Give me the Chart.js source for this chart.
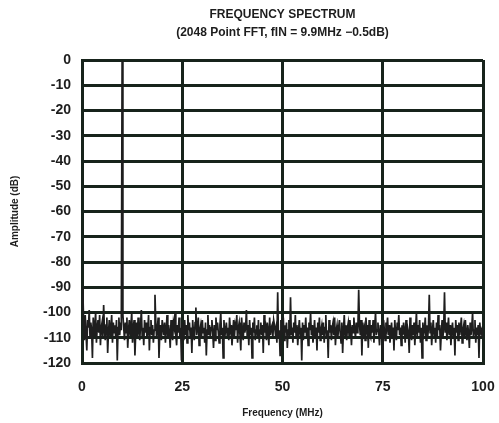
<!DOCTYPE html>
<html>
<head>
<meta charset="utf-8">
<title>Frequency Spectrum</title>
<script src="https://cdn.jsdelivr.net/npm/chart.js@4.4.1/dist/chart.umd.min.js"></script>
<style>
  html, body { margin: 0; padding: 0; background: #fff; overflow: hidden; }
  #wrap { position: relative; width: 499px; height: 423px; }
</style>
</head>
<body>
<div id="wrap"><canvas id="fftChart"></canvas></div>
<script>
// FFT bins: 0.2 MHz spacing from 0 to 100 MHz
const binWidthMHz = 0.2;

// Amplitude of each bin in dB (bin 50 is the 10 MHz fundamental)
const amplitudeDb = [
  -97, -90, -104, -111, -101, -108, -115, -103, -106, -99,
  -110, -104, -107, -118, -102, -109, -105, -100, -112, -106,
  -103, -108, -101, -113, -106, -104, -110, -97, -107, -111,
  -105, -102, -116, -108, -103, -109, -106, -101, -112, -104,
  -108, -105, -110, -103, -119, -106, -102, -109, -104, -107,
  -0.5, -101, -106, -111, -104, -108, -102, -114, -107, -103,
  -109, -105, -100, -112, -106, -103, -117, -108, -104, -110,
  -102, -107, -111, -105, -99, -109, -106, -113, -103, -108,
  -104, -110, -107, -101, -115, -106, -103, -109, -105, -112,
  -107, -93, -104, -110, -106, -102, -118, -108, -105, -111,
  -103, -106, -109, -104, -112, -107, -101, -110, -105, -108,
  -114, -103, -107, -111, -104, -106, -100, -109, -113, -105,
  -108, -102, -110, -106, -119, -104, -107, -111, -103, -109,
  -105, -112, -101, -107, -104, -110, -106, -116, -103, -108,
  -111, -104, -98, -109, -106, -102, -113, -107, -105, -110,
  -103, -108, -106, -112, -104, -117, -107, -101, -109, -105,
  -110, -106, -103, -108, -114, -105, -111, -102, -107, -104,
  -108, -112, -105, -100, -109, -106, -118, -103, -110, -107,
  -104, -109, -106, -111, -102, -107, -105, -113, -108, -103,
  -110, -105, -107, -101, -112, -106, -104, -109, -115, -102,
  -107, -111, -104, -108, -106, -99, -110, -105, -113, -103,
  -109, -106, -118, -104, -108, -102, -111, -107, -105, -110,
  -103, -112, -107, -104, -109, -105, -116, -101, -108, -106,
  -111, -104, -107, -113, -102, -109, -106, -105, -110, -103,
  -105, -108, -106, -112, -92, -110, -107, -117, -103, -109,
  -106, -102, -111, -105, -108, -104, -114, -107, -103, -110,
  -94, -109, -106, -112, -104, -108, -101, -110, -105, -113,
  -107, -103, -109, -106, -119, -104, -111, -105, -108, -102,
  -110, -106, -113, -104, -107, -100, -109, -105, -112, -108,
  -103, -110, -106, -115, -104, -108, -102, -111, -107, -105,
  -109, -104, -112, -106, -101, -110, -107, -118, -103, -108,
  -105, -111, -106, -104, -109, -102, -113, -107, -105, -110,
  -106, -103, -108, -112, -104, -116, -107, -101, -109, -105,
  -111, -106, -104, -109, -103, -107, -113, -105, -108, -102,
  -107, -110, -104, -108, -106, -91, -105, -109, -103, -117,
  -104, -108, -106, -111, -102, -107, -105, -114, -103, -109,
  -110, -105, -108, -103, -112, -106, -100, -109, -107, -104,
  -108, -113, -105, -110, -106, -119, -103, -107, -111, -104,
  -106, -102, -109, -105, -112, -108, -104, -110, -106, -115,
  -103, -108, -111, -104, -107, -101, -109, -106, -113, -105,
  -109, -104, -107, -112, -103, -110, -106, -108, -116, -102,
  -107, -111, -105, -109, -104, -113, -106, -100, -110, -105,
  -108, -103, -112, -106, -118, -104, -109, -107, -102, -111,
  -105, -110, -106, -93, -108, -104, -113, -107, -103, -109,
  -106, -112, -104, -110, -101, -107, -105, -115, -108, -103,
  -110, -106, -92, -108, -104, -111, -107, -102, -109, -105,
  -113, -107, -104, -110, -106, -117, -103, -108, -105, -111,
  -104, -109, -106, -102, -112, -107, -105, -110, -103, -108,
  -111, -105, -108, -114, -104, -109, -106, -100, -110, -107,
  -103, -112, -106, -109, -105, -118, -104, -108, -107, -110,
  -106
];

const freqMHz = amplitudeDb.map((_, bin) => bin * binWidthMHz);

const titleLines = ['FREQUENCY SPECTRUM', '(2048 Point FFT, fIN = 9.9MHz \u22120.5dB)'];
const xTicks = [0, 25, 50, 75, 100];
const yTicks = [0, -10, -20, -30, -40, -50, -60, -70, -80, -90, -100, -110, -120];

const gridColor = '#17231b';
const inkColor = '#1d1d1d';
const labelFont = { family: "'Liberation Sans', Arial, sans-serif", size: 14, weight: 'bold' };

const points = freqMHz.map((f, i) => ({ x: f, y: amplitudeDb[i] }));

const ctx = document.getElementById('fftChart').getContext('2d');
new Chart(ctx, {
  type: 'line',
  data: {
    datasets: [{
      data: points,
      borderColor: '#1e1e1e',
      borderWidth: 1.7,
      pointRadius: 0,
      tension: 0
    }]
  },
  options: {
    responsive: true,
    maintainAspectRatio: false,
    animation: false,
    layout: { padding: { left: 0, right: 16, top: 0, bottom: 0 } },
    plugins: {
      legend: { display: false },
      tooltip: { enabled: false },
      title: {
        display: true,
        fullSize: false,
        text: titleLines,
        color: inkColor,
        font: { family: "'Liberation Sans', Arial, sans-serif", size: 12, weight: 'bold', lineHeight: 1.5 },
        padding: { top: 6, bottom: 18 }
      }
    },
    scales: {
      x: {
        type: 'linear',
        min: 0,
        max: 100,
        afterFit: (scale) => { scale.height = 60; },
        afterBuildTicks: (scale) => { scale.ticks = xTicks.map(v => ({ value: v })); },
        // invisible tick marks push the labels down without widening the side padding
        ticks: { color: inkColor, font: labelFont, padding: 4, maxRotation: 0 },
        grid: { color: gridColor, lineWidth: 3, drawTicks: true, tickLength: 12, tickColor: 'rgba(0,0,0,0)' },
        border: { display: true, color: gridColor, width: 3 },
        title: {
          display: true,
          text: 'Frequency (MHz)',
          color: inkColor,
          font: { family: "'Liberation Sans', Arial, sans-serif", size: 10, weight: 'bold' },
          padding: { top: 0, bottom: 4 }
        }
      },
      y: {
        min: -120,
        max: 0,
        afterFit: (scale) => { scale.width = 82; },
        afterBuildTicks: (scale) => { scale.ticks = yTicks.map(v => ({ value: v })); },
        ticks: { color: inkColor, font: labelFont, padding: 11 },
        grid: { color: gridColor, lineWidth: 3, drawTicks: false },
        border: { display: true, color: gridColor, width: 3 },
        title: {
          display: true,
          text: 'Amplitude (dB)',
          color: inkColor,
          font: { family: "'Liberation Sans', Arial, sans-serif", size: 10, weight: 'bold' },
          padding: { top: 9, bottom: 0 }
        }
      }
    }
  }
});
</script>
</body>
</html>
